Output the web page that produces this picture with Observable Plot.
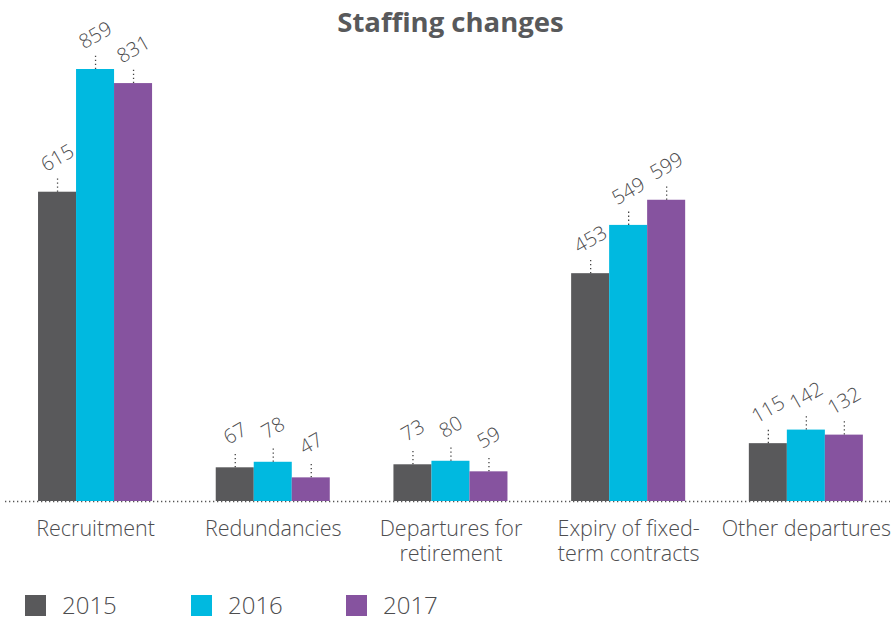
<!DOCTYPE html>
<html><head><meta charset="utf-8">
<script src="https://cdn.jsdelivr.net/npm/d3@7"></script>
<script src="https://cdn.jsdelivr.net/npm/@observablehq/plot@0.6"></script>
<style>
body{margin:0;background:#fff;font-family:"Open Sans",Lato,sans-serif;position:relative;width:891px;height:621px;overflow:hidden;}
#title{position:absolute;top:0;left:0;width:891px;height:45px;line-height:44px;text-align:center;font-weight:bold;font-size:27.5px;color:#58595b;padding-left:10px;box-sizing:border-box;z-index:2;}
#chart svg{display:block;}
.lg{position:absolute;top:593px;height:24px;line-height:24px;display:flex;align-items:center;font-size:24px;font-weight:300;color:#4d4d4f;}
.lg span.sw{display:inline-block;width:21px;height:21px;margin-right:16px;}
</style></head>
<body>
<div id="title">Staffing changes</div>
<div id="chart"></div>
<div id="legend"></div>
<script>
const categories = ["Recruitment", "Redundancies", "Departures for\nretirement", "Expiry of fixed-\nterm contracts", "Other departures"];
const years = ["2015", "2016", "2017"];
const values2015 = [615, 67, 73, 453, 115];
const values2016 = [859, 78, 80, 549, 142];
const values2017 = [831, 47, 59, 599, 132];
const colors = ["#59595b", "#00b9e0", "#86539f"];

const series = [values2015, values2016, values2017];
const rows = [];
years.forEach((y, j) => categories.forEach((c, i) => rows.push({category: c, year: y, value: series[j][i]})));

const offsets = {"2015": -38, "2016": 0, "2017": 38};
const textColor = "#4d4d4f";

const marks = [Plot.ruleY([0], {stroke: "#555", strokeWidth: 1.3, strokeDasharray: "1.3 2.7"})];
years.forEach((y, j) => {
  const d = rows.filter(r => r.year === y);
  marks.push(Plot.barY(d, {x: "category", y: "value", fill: colors[j], dx: offsets[y]}));
  marks.push(Plot.ruleX(d, {x: "category", y1: r => r.value, y2: r => r.value + 30, dx: offsets[y], stroke: "#444", strokeWidth: 1.3, strokeDasharray: "1.3 2.7"}));
  marks.push(Plot.text(d, {x: "category", y: "value", text: r => String(r.value), dx: offsets[y], dy: -34, rotate: -30, fontSize: 20, fontWeight: 300, fill: textColor, textAnchor: "middle"}));
});
marks.push(Plot.text(categories, {x: d => d, y: () => 0, text: d => d, dy: 17, lineAnchor: "top", fontSize: 21.5, fontWeight: 300, lineHeight: 1.16, fill: textColor}));

const chart = Plot.plot({
  width: 891,
  height: 570,
  marginLeft: 5,
  marginRight: 1,
  marginTop: 0,
  marginBottom: 0,
  style: {fontFamily: "'Open Sans', Lato, sans-serif", background: "#fff"},
  x: {domain: categories, range: [6.2, 894.7], paddingInner: 0.786, paddingOuter: 0.393, round: false, axis: null},
  y: {domain: [0, 859], range: [501, 69], axis: null},
  marks
});
document.getElementById("chart").append(chart);

const lefts = [25, 191, 346];
const legend = document.getElementById("legend");
years.forEach((y, j) => {
  const el = document.createElement("div");
  el.className = "lg";
  el.style.left = lefts[j] + "px";
  el.innerHTML = `<span class="sw" style="background:${colors[j]}"></span>${y}`;
  legend.append(el);
});
</script>
</body></html>
